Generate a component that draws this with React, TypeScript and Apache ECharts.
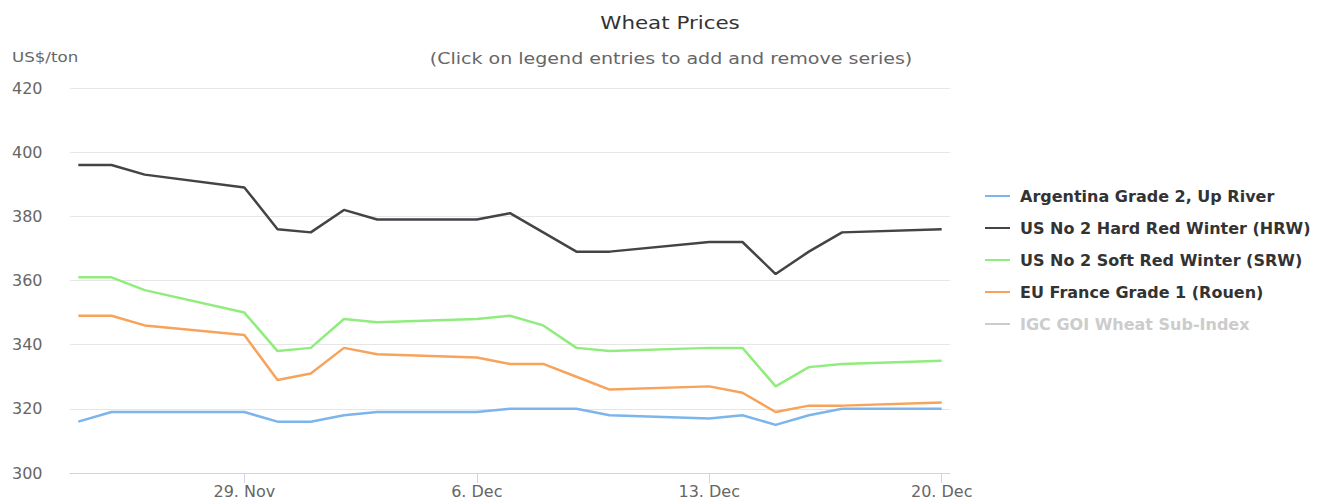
import React, { useEffect, useRef } from "react";
import * as echarts from "echarts";

const dates = [
  "2021-11-24", "2021-11-25", "2021-11-26", "2021-11-29", "2021-11-30",
  "2021-12-01", "2021-12-02", "2021-12-03", "2021-12-06", "2021-12-07",
  "2021-12-08", "2021-12-09", "2021-12-10", "2021-12-13", "2021-12-14",
  "2021-12-15", "2021-12-16", "2021-12-17", "2021-12-20",
];
const argentina = [316, 319, 319, 319, 316, 316, 318, 319, 319, 320, 320, 320, 318, 317, 318, 315, 318, 320, 320];
const hrw = [396, 396, 393, 389, 376, 375, 382, 379, 379, 381, 375, 369, 369, 372, 372, 362, 369, 375, 376];
const srw = [361, 361, 357, 350, 338, 339, 348, 347, 348, 349, 346, 339, 338, 339, 339, 327, 333, 334, 335];
const rouen = [349, 349, 346, 343, 329, 331, 339, 337, 336, 334, 334, 330, 326, 327, 325, 319, 321, 321, 322];
const igc: number[] = [];
const tickDates = ["2021-11-29", "2021-12-06", "2021-12-13", "2021-12-20"];
const seriesNames = [
  "Argentina Grade 2, Up River",
  "US No 2 Hard Red Winter (HRW)",
  "US No 2 Soft Red Winter (SRW)",
  "EU France Grade 1 (Rouen)",
  "IGC GOI Wheat Sub-Index",
];
const colors = ["#7cb5ec", "#434348", "#90ed7d", "#f7a35c", "#8085e9"];
const months = ["Jan", "Feb", "Mar", "Apr", "May", "Jun", "Jul", "Aug", "Sep", "Oct", "Nov", "Dec"];

const FONT = "'DejaVu Sans', Verdana, sans-serif";
const DAY = 86400000;
const ts = (d: string) => Date.parse(d + "T00:00:00Z");
const STRETCH = 1.19;

export default function App() {
  const ref = useRef<HTMLDivElement>(null);
  useEffect(() => {
    document.body.style.margin = "0";
    if (!ref.current) return;
    const chart = echarts.init(ref.current, null, { renderer: "svg" });
    const values = [argentina, hrw, srw, rouen, igc];
    const tickVals = tickDates.map(ts);
    chart.setOption({
      animation: false,
      color: colors,
      textStyle: { fontFamily: FONT },
      grid: { left: 70, right: 372, top: 88, bottom: 27, containLabel: false },
      graphic: [
        {
          type: "text", x: 670, y: 23, scaleX: STRETCH,
          style: { text: "Wheat Prices", fontFamily: FONT, fontSize: 18, fill: "#333", textAlign: "center", textVerticalAlign: "middle" },
        },
        {
          type: "text", x: 671, y: 59, scaleX: STRETCH,
          style: { text: "(Click on legend entries to add and remove series)", fontFamily: FONT, fontSize: 16, fill: "#666", textAlign: "center", textVerticalAlign: "middle" },
        },
        {
          type: "text", x: 12, y: 57, scaleX: STRETCH,
          style: { text: "US$/ton", fontFamily: FONT, fontSize: 14, fill: "#666", textAlign: "left", textVerticalAlign: "middle" },
        },
      ],
      legend: {
        orient: "vertical",
        left: 985,
        top: 187,
        padding: 0,
        icon: "rect",
        itemWidth: 25,
        itemHeight: 2,
        itemGap: 14,
        inactiveColor: "#cccccc",
        data: seriesNames,
        selected: { [seriesNames[4]]: false },
        textStyle: { fontFamily: FONT, fontSize: 16, fontWeight: "bold", color: "#333", lineHeight: 18, padding: [0, 0, 0, 5] },
      },
      xAxis: {
        type: "value",
        min: ts(dates[0]) - 0.25 * DAY,
        max: ts(dates[dates.length - 1]) + 0.25 * DAY,
        axisLine: { show: true, lineStyle: { color: "#ccd6eb", width: 1 } },
        axisTick: { show: true, customValues: tickVals, length: 10, lineStyle: { color: "#ccd6eb" } },
        axisLabel: {
          customValues: tickVals,
          margin: 10,
          fontFamily: FONT,
          fontSize: 16,
          color: "#666",
          formatter: (v: number) => {
            const d = new Date(v);
            return d.getUTCDate() + ". " + months[d.getUTCMonth()];
          },
        },
        splitLine: { show: false },
      },
      yAxis: {
        type: "value",
        min: 300,
        max: 420,
        interval: 20,
        axisLine: { show: false },
        axisTick: { show: false },
        axisLabel: { align: "left", margin: 58, fontFamily: FONT, fontSize: 16, color: "#666" },
        splitLine: { lineStyle: { color: "#e6e6e6", width: 1 } },
      },
      series: seriesNames.map((name, i) => ({
        name,
        type: "line",
        showSymbol: false,
        lineStyle: { width: 2.5 },
        data: values[i].map((v, j) => [ts(dates[j]), v]),
      })),
    });
    return () => chart.dispose();
  }, []);
  return <div ref={ref} style={{ width: 1322, height: 500 }} />;
}
